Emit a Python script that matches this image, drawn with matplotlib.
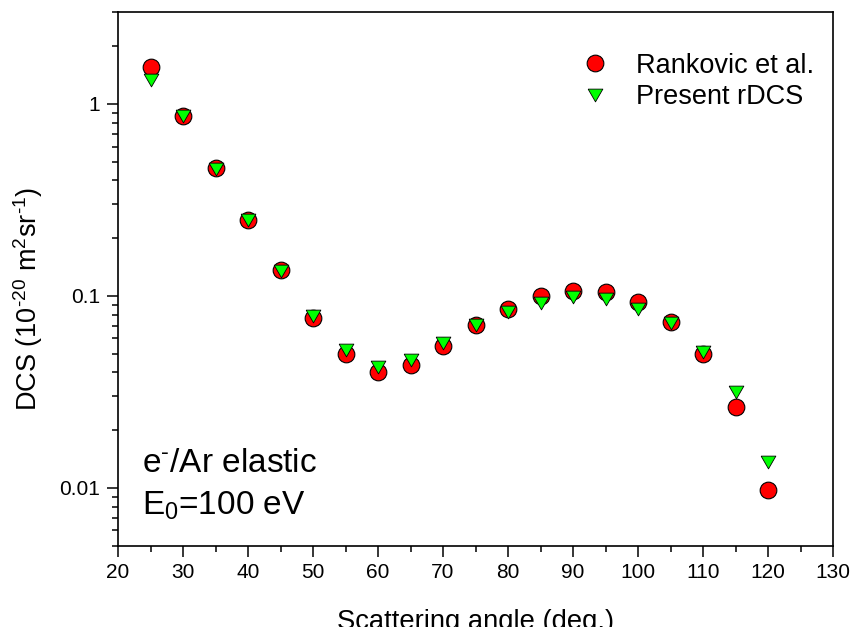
import matplotlib
matplotlib.use("Agg")
import matplotlib.pyplot as plt
import numpy as np
from matplotlib.ticker import FixedLocator, LogLocator, NullFormatter, FuncFormatter, MultipleLocator

plt.rcParams['font.family'] = ['Liberation Sans', 'DejaVu Sans']
plt.rcParams['mathtext.fontset'] = 'custom'
plt.rcParams['mathtext.rm'] = 'Liberation Sans'
plt.rcParams['mathtext.it'] = 'Liberation Sans'

angles = [25, 30, 35, 40, 45, 50, 55, 60, 65, 70, 75, 80, 85, 90, 95, 100, 105, 110, 115, 120]
rankovic = [1.56, 0.869, 0.461, 0.250, 0.136, 0.0765, 0.0498, 0.0401, 0.0436, 0.0548,
            0.0705, 0.0853, 0.0997, 0.1057, 0.1045, 0.0927, 0.0730, 0.0498, 0.0264, 0.00977]
present = [1.34, 0.86, 0.459, 0.248, 0.1355, 0.0785, 0.0522, 0.0425, 0.0461, 0.0567,
           0.0702, 0.0827, 0.0917, 0.0988, 0.0964, 0.0859, 0.0720, 0.0508, 0.0315, 0.0136]
y_tick_values = [0.01, 0.1, 1]
y_tick_labels = ['0.01', '0.1', '1']

fig = plt.figure(figsize=(8.53, 6.27), dpi=100)
ax = fig.add_axes([118/853, 1-545.7/627, (833-118)/853, (545.7-12.3)/627])

tri = [(-1, 0.866), (1, 0.866), (0, -0.866), (-1, 0.866)]
ax.plot(angles, rankovic, linestyle='none', marker='o', markersize=12,
        markerfacecolor='#ff0000', markeredgecolor='black', markeredgewidth=0.8,
        label='Rankovic et al.')
ax.plot(angles, present, linestyle='none', marker=tri, markersize=10.6,
        markerfacecolor='#00ff00', markeredgecolor='black', markeredgewidth=0.6,
        label='Present rDCS')

ax.set_yscale('log')
ax.set_xlim(20, 130)
ax.set_ylim(0.005, 3)
ax.xaxis.set_major_locator(MultipleLocator(10))
ax.xaxis.set_minor_locator(MultipleLocator(5))
ax.yaxis.set_major_locator(FixedLocator(y_tick_values))
ax.yaxis.set_minor_locator(LogLocator(base=10, subs=np.arange(2, 10)))
ax.yaxis.set_minor_formatter(NullFormatter())
lab_map = {round(v, 4): s for v, s in zip(y_tick_values, y_tick_labels)}
ax.yaxis.set_major_formatter(FuncFormatter(lambda v, p: lab_map.get(round(v, 4), '')))

for s in ax.spines.values():
    s.set_linewidth(1.2)
ax.tick_params(which='major', direction='out', length=7.8, width=1.1, labelsize=15, pad=5)
ax.tick_params(which='minor', direction='out', length=4.3, width=1.1)
ax.tick_params(top=False, right=False)

ax.set_xlabel('Scattering angle (deg.)', fontsize=19.7, labelpad=19)
fig.text(28/853, 1-299/627, r'DCS (10$^{\text{-}20}$ m$^{2}$sr$^{\text{-}1}$)', fontsize=19.5,
         rotation=90, ha='center', va='center')

fig.text(142/853, 1-471.7/627, r'e$^{\text{-}}$/Ar elastic', fontsize=24, ha='left', va='baseline')
fig.text(142/853, 1-515/627, r'E$_{0}$=100 eV', fontsize=24, ha='left', va='baseline')

ax.legend(loc='upper right', bbox_to_anchor=(1.0, 0.96), frameon=False, fontsize=19.5,
          handletextpad=0.9, labelspacing=0.2, borderaxespad=0.3, handlelength=1.2)

fig.savefig('out.png', dpi=100)
